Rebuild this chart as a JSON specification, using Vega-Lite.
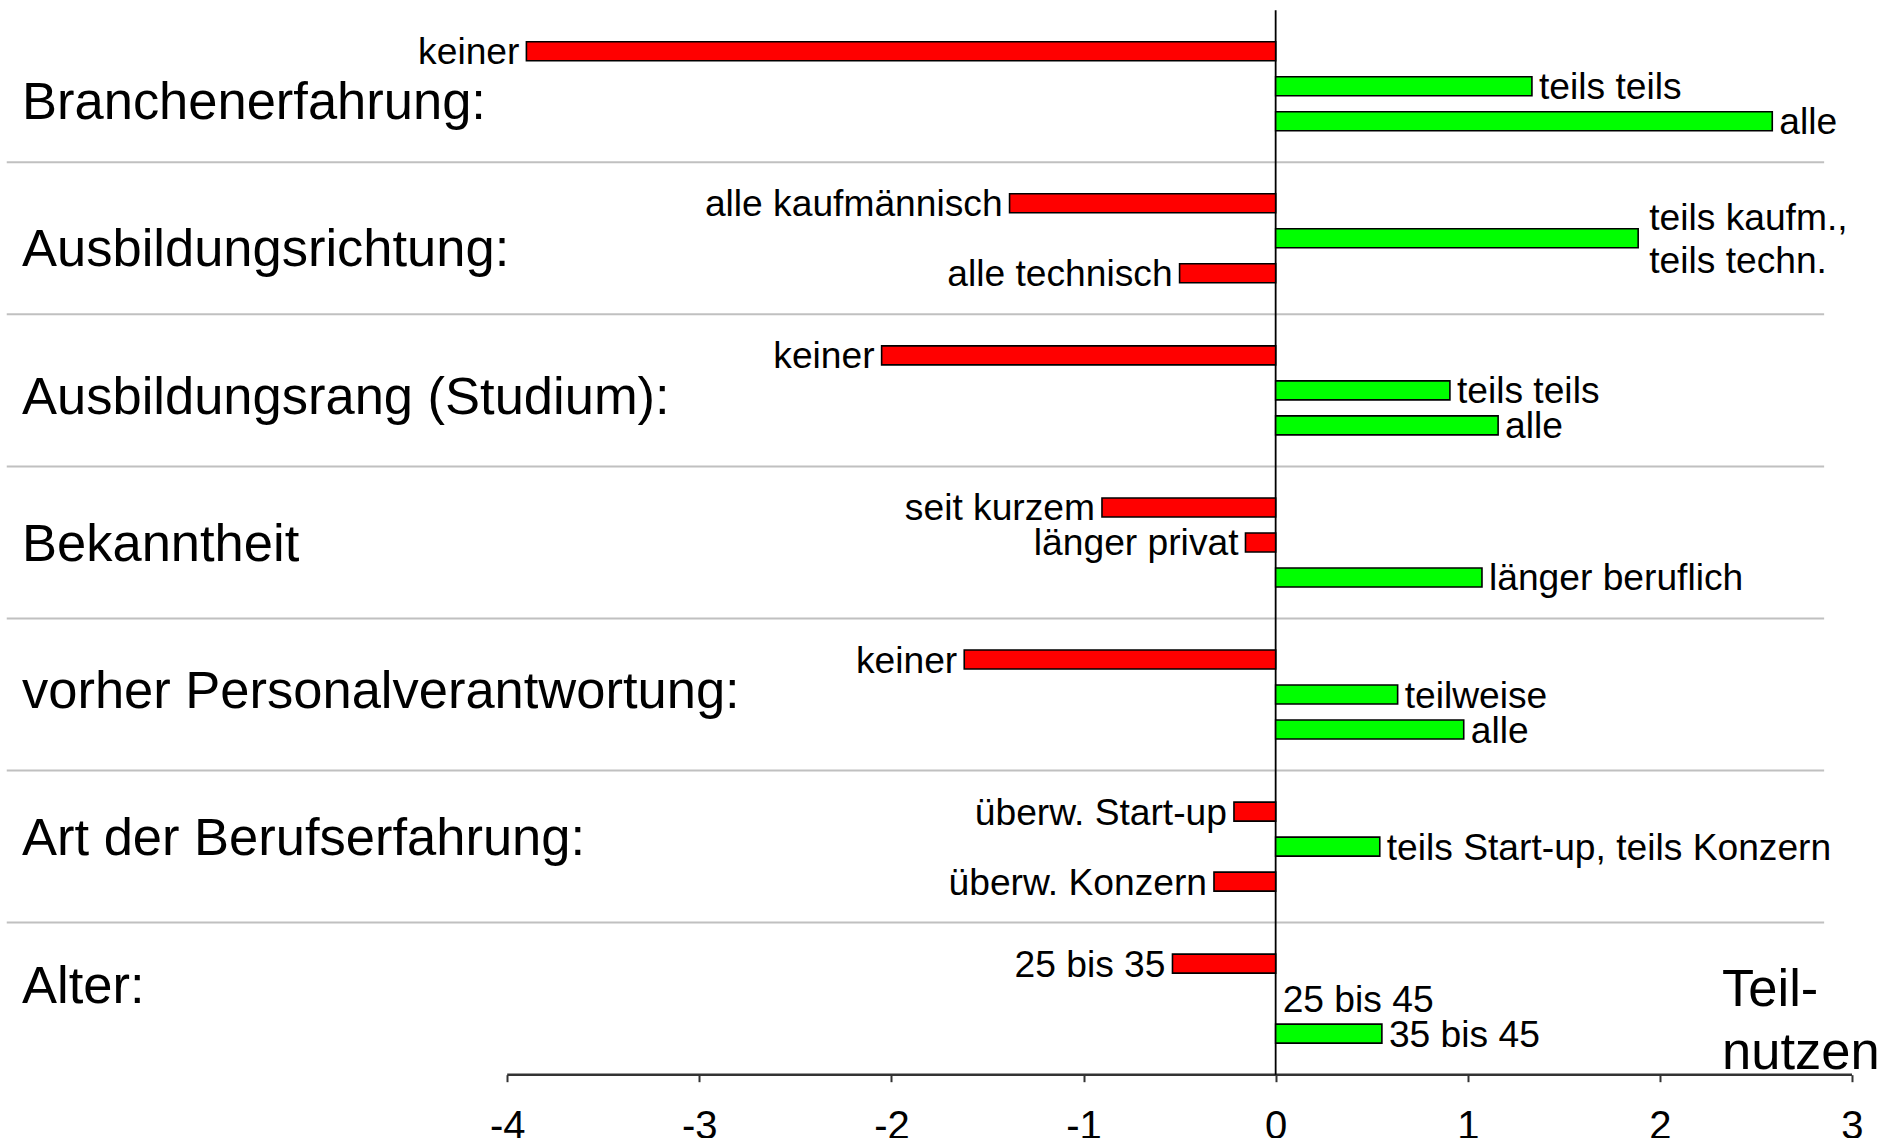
{
  "$schema": "https://vega.github.io/schema/vega-lite/v6.json",
  "width": 1847,
  "height": 1064.5,
  "padding": {"left": 5, "top": 9.2, "right": 0, "bottom": 0},
  "background": "white",
  "config": {
    "view": {"stroke": null},
    "font": "Liberation Sans",
    "axisX": {"domain": false, "grid": false, "ticks": true, "tickSize": 7, "tickWidth": 2, "tickColor": "#333333", "labelFontSize": 40, "labelFont": "Liberation Sans", "labelColor": "black", "labelPadding": 25, "labelFlush": false, "labelOverlap": false}
  },
  "datasets": {
    "bars": [
      {"group": "Branchenerfahrung:", "nr": 1, "label": "keiner", "value": -3.9},
      {"group": "Branchenerfahrung:", "nr": 2, "label": "teils teils", "value": 1.334},
      {"group": "Branchenerfahrung:", "nr": 3, "label": "alle", "value": 2.585},
      {"group": "Ausbildungsrichtung:", "nr": 1, "label": "alle kaufmännisch", "value": -1.385},
      {"group": "Ausbildungsrichtung:", "nr": 2, "label": "teils kaufm.,\nteils techn.", "value": 1.887},
      {"group": "Ausbildungsrichtung:", "nr": 3, "label": "alle technisch", "value": -0.5},
      {"group": "Ausbildungsrang (Studium):", "nr": 1, "label": "keiner", "value": -2.051},
      {"group": "Ausbildungsrang (Studium):", "nr": 2, "label": "teils teils", "value": 0.907},
      {"group": "Ausbildungsrang (Studium):", "nr": 3, "label": "alle", "value": 1.158},
      {"group": "Bekanntheit", "nr": 1, "label": "seit kurzem", "value": -0.904},
      {"group": "Bekanntheit", "nr": 2, "label": "länger privat", "value": -0.157},
      {"group": "Bekanntheit", "nr": 3, "label": "länger beruflich", "value": 1.074},
      {"group": "vorher Personalverantwortung:", "nr": 1, "label": "keiner", "value": -1.621},
      {"group": "vorher Personalverantwortung:", "nr": 2, "label": "teilweise", "value": 0.635},
      {"group": "vorher Personalverantwortung:", "nr": 3, "label": "alle", "value": 0.979},
      {"group": "Art der Berufserfahrung:", "nr": 1, "label": "überw. Start-up", "value": -0.217},
      {"group": "Art der Berufserfahrung:", "nr": 2, "label": "teils Start-up, teils Konzern", "value": 0.542},
      {"group": "Art der Berufserfahrung:", "nr": 3, "label": "überw. Konzern", "value": -0.321},
      {"group": "Alter:", "nr": 1, "label": "25 bis 35", "value": -0.537},
      {"group": "Alter:", "nr": 2, "label": "25 bis 45", "value": 0},
      {"group": "Alter:", "nr": 3, "label": "35 bis 45", "value": 0.553}
    ],
    "groups": [
      {"group": "Branchenerfahrung:"},
      {"group": "Ausbildungsrichtung:"},
      {"group": "Ausbildungsrang (Studium):"},
      {"group": "Bekanntheit"},
      {"group": "vorher Personalverantwortung:"},
      {"group": "Art der Berufserfahrung:"},
      {"group": "Alter:"}
    ],
    "note": [{"group": "Alter:", "text": "Teil-\nnutzen"}]
  },
  "data": {"name": "bars"},
  "resolve": {"scale": {"y": "independent"}},
  "layer": [
    {
      "layer": [
        {
          "data": {"name": "groups"},
          "transform": [{"filter": "datum.group !== 'Alter:'"}],
          "mark": {"type": "rule", "color": "#c0c0c0", "strokeWidth": 2},
          "encoding": {
            "y": {"field": "group", "type": "nominal", "bandPosition": 1, "axis": null,
                  "scale": {"type": "band", "domain": ["Branchenerfahrung:", "Ausbildungsrichtung:", "Ausbildungsrang (Studium):", "Bekanntheit", "vorher Personalverantwortung:", "Art der Berufserfahrung:", "Alter:"], "paddingInner": 0, "paddingOuter": 0}},
            "x": {"datum": -6.605, "type": "quantitative", "scale": {"domain": [-6.614, 3], "nice": false, "zero": false}},
            "x2": {"datum": 2.855}
          }
        },
        {
          "data": {"name": "groups"},
          "transform": [{"filter": "datum.group === 'Alter:'"}],
          "mark": {"type": "rule", "color": "#333333", "strokeWidth": 2.5},
          "encoding": {
            "y": {"field": "group", "type": "nominal", "bandPosition": 1, "axis": null,
                  "scale": {"type": "band", "domain": ["Branchenerfahrung:", "Ausbildungsrichtung:", "Ausbildungsrang (Studium):", "Bekanntheit", "vorher Personalverantwortung:", "Art der Berufserfahrung:", "Alter:"], "paddingInner": 0, "paddingOuter": 0}},
            "x": {"datum": -4, "type": "quantitative", "scale": {"domain": [-6.614, 3], "nice": false, "zero": false}},
            "x2": {"datum": 3}
          }
        },
        {
          "data": {"values": [{}]},
          "mark": {"type": "rule", "color": "black", "strokeWidth": 1.8},
          "encoding": {
            "x": {"datum": 0, "type": "quantitative", "scale": {"domain": [-6.614, 3], "nice": false, "zero": false}}
          }
        },
        {
          "transform": [{"filter": "datum.value != 0"}],
          "mark": {"type": "bar", "stroke": "black", "strokeWidth": 1.6},
          "encoding": {
            "y": {"field": "group", "type": "nominal", "axis": null,
                  "scale": {"type": "band", "domain": ["Branchenerfahrung:", "Ausbildungsrichtung:", "Ausbildungsrang (Studium):", "Bekanntheit", "vorher Personalverantwortung:", "Art der Berufserfahrung:", "Alter:"], "paddingInner": 0, "paddingOuter": 0}},
            "yOffset": {"field": "nr", "type": "ordinal", "scale": {"domain": [1, 2, 3], "paddingInner": 0.457, "paddingOuter": 0.901}},
            "x": {"field": "value", "type": "quantitative",
                  "scale": {"domain": [-6.614, 3], "nice": false, "zero": false},
                  "axis": {"values": [-4, -3, -2, -1, 0, 1, 2, 3], "labelExpr": "toString(datum.value)", "title": null}},
            "x2": {"datum": 0},
            "fill": {"condition": {"test": "datum.value < 0", "value": "#ff0000"}, "value": "#00ff00"}
          }
        },
        {
          "transform": [{"filter": "datum.value < 0"}],
          "mark": {"type": "text", "align": "right", "baseline": "middle", "dx": -7, "dy": 2, "fontSize": 37.2, "font": "Liberation Sans", "color": "black"},
          "encoding": {
            "y": {"field": "group", "type": "nominal", "axis": null,
                  "scale": {"type": "band", "domain": ["Branchenerfahrung:", "Ausbildungsrichtung:", "Ausbildungsrang (Studium):", "Bekanntheit", "vorher Personalverantwortung:", "Art der Berufserfahrung:", "Alter:"], "paddingInner": 0, "paddingOuter": 0}},
            "yOffset": {"field": "nr", "type": "ordinal", "scale": {"domain": [1, 2, 3], "paddingInner": 0.457, "paddingOuter": 0.901}},
            "x": {"field": "value", "type": "quantitative", "scale": {"domain": [-6.614, 3], "nice": false, "zero": false}, "axis": {"values": [-4, -3, -2, -1, 0, 1, 2, 3], "labelExpr": "toString(datum.value)", "title": null}},
            "text": {"field": "label"}
          }
        },
        {
          "transform": [{"filter": "datum.value >= 0 && indexof(datum.label, '\\n') < 0"}],
          "mark": {"type": "text", "align": "left", "baseline": "middle", "dx": 7, "dy": 2, "fontSize": 37.2, "font": "Liberation Sans", "color": "black"},
          "encoding": {
            "y": {"field": "group", "type": "nominal", "axis": null,
                  "scale": {"type": "band", "domain": ["Branchenerfahrung:", "Ausbildungsrichtung:", "Ausbildungsrang (Studium):", "Bekanntheit", "vorher Personalverantwortung:", "Art der Berufserfahrung:", "Alter:"], "paddingInner": 0, "paddingOuter": 0}},
            "yOffset": {"field": "nr", "type": "ordinal", "scale": {"domain": [1, 2, 3], "paddingInner": 0.457, "paddingOuter": 0.901}},
            "x": {"field": "value", "type": "quantitative", "scale": {"domain": [-6.614, 3], "nice": false, "zero": false}, "axis": {"values": [-4, -3, -2, -1, 0, 1, 2, 3], "labelExpr": "toString(datum.value)", "title": null}},
            "text": {"field": "label"}
          }
        },
        {
          "transform": [{"filter": "indexof(datum.label, '\\n') >= 0"}],
          "mark": {"type": "text", "align": "left", "baseline": "middle", "dx": 11, "dy": -19.7, "fontSize": 37.2, "font": "Liberation Sans", "color": "black", "lineBreak": "\n", "lineHeight": 43.4},
          "encoding": {
            "y": {"field": "group", "type": "nominal", "axis": null,
                  "scale": {"type": "band", "domain": ["Branchenerfahrung:", "Ausbildungsrichtung:", "Ausbildungsrang (Studium):", "Bekanntheit", "vorher Personalverantwortung:", "Art der Berufserfahrung:", "Alter:"], "paddingInner": 0, "paddingOuter": 0}},
            "yOffset": {"field": "nr", "type": "ordinal", "scale": {"domain": [1, 2, 3], "paddingInner": 0.457, "paddingOuter": 0.901}},
            "x": {"field": "value", "type": "quantitative", "scale": {"domain": [-6.614, 3], "nice": false, "zero": false}, "axis": {"values": [-4, -3, -2, -1, 0, 1, 2, 3], "labelExpr": "toString(datum.value)", "title": null}},
            "text": {"field": "label"}
          }
        },
        {
          "data": {"name": "note"},
          "mark": {"type": "text", "align": "left", "baseline": "alphabetic", "dy": 7.4, "fontSize": 52.5, "font": "Liberation Sans", "color": "black", "lineBreak": "\n", "lineHeight": 63},
          "encoding": {
            "y": {"field": "group", "type": "nominal", "axis": null,
                  "scale": {"type": "band", "domain": ["Branchenerfahrung:", "Ausbildungsrichtung:", "Ausbildungsrang (Studium):", "Bekanntheit", "vorher Personalverantwortung:", "Art der Berufserfahrung:", "Alter:"], "paddingInner": 0, "paddingOuter": 0}},
            "x": {"datum": 2.324, "type": "quantitative", "scale": {"domain": [-6.614, 3], "nice": false, "zero": false}},
            "text": {"field": "text"}
          }
        }
      ]
    },
    {
      "data": {"name": "groups"},
      "mark": {"type": "text", "align": "left", "baseline": "alphabetic", "dy": 18.5, "fontSize": 52.5, "font": "Liberation Sans", "color": "black"},
      "encoding": {
        "y": {"field": "group", "type": "nominal", "axis": null,
              "scale": {"type": "point", "domain": ["Branchenerfahrung:", "Ausbildungsrichtung:", "Ausbildungsrang (Studium):", "Bekanntheit", "vorher Personalverantwortung:", "Art der Berufserfahrung:", "Alter:"], "padding": 0.615}},
        "x": {"datum": -6.5255, "type": "quantitative", "scale": {"domain": [-6.614, 3], "nice": false, "zero": false}},
        "text": {"field": "group"}
      }
    }
  ]
}
